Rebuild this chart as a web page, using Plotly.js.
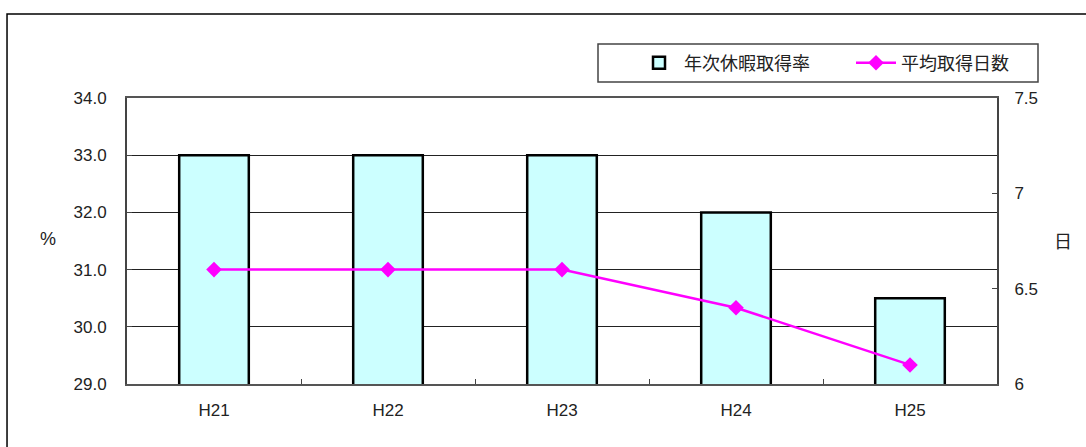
<!DOCTYPE html>
<html><head><meta charset="utf-8">
<script src="https://cdn.plot.ly/plotly-3.0.1.min.js"></script>
<style>html,body{margin:0;padding:0;background:#fff}#c{width:1086px;height:447px}</style>
</head><body><div id="c"></div>
<script>
const categories = ["H21","H22","H23","H24","H25"];
const rateValues = [33.0, 33.0, 33.0, 32.0, 30.5];
const dayValues = [6.6, 6.6, 6.6, 6.4, 6.1];
const rateName = "年次休暇取得率";
const dayName = "平均取得日数";
const leftTicks = [29, 30, 31, 32, 33, 34];
const leftTickText = ["29.0","30.0","31.0","32.0","33.0","34.0"];
const rightTicks = [6, 6.5, 7, 7.5];
const rightTickText = ["6","6.5","7","7.5"];

const FONT = "Liberation Sans, Arial, Noto Sans CJK JP, sans-serif";
const CJK = "Noto Sans CJK JP, sans-serif";
const traces = [
  {type:"bar", x:categories, y:rateValues, name:rateName, width:0.4,
   marker:{color:"#CCFFFF", line:{color:"#000", width:2.5}}, yaxis:"y"},
  {type:"scatter", mode:"lines+markers", x:categories, y:dayValues, name:dayName, yaxis:"y2",
   line:{color:"#FF00FF", width:2.5}, marker:{symbol:"diamond", size:12, color:"#FF00FF"}}
];
const layout = {
  width:1086, height:447,
  margin:{l:127, r:89, t:98, b:63, autoexpand:false},
  paper_bgcolor:"#fff", plot_bgcolor:"#fff",
  font:{family:FONT, size:17, color:"#222"},
  showlegend:true,
  legend:{orientation:"h", x:(634-127)/870, y:(384-63)/286, xanchor:"left", yanchor:"middle",
          borderwidth:0, bgcolor:"rgba(0,0,0,0)",
          font:{family:CJK, size:18, color:"#222"},
          itemwidth:40, entrywidth:162, tracegroupgap:0},
  xaxis:{type:"category", showgrid:false, showline:true, mirror:true, linecolor:"#555", linewidth:2,
         ticks:"inside", tickson:"boundaries", ticklen:5, tickcolor:"#444", tickwidth:1,
         ticklabelstandoff:10, tickfont:{size:17, family:FONT}, range:[-0.5,4.5], fixedrange:true},
  yaxis:{range:[29,34], tickvals:leftTicks, ticktext:leftTickText, showgrid:true, gridcolor:"#222", gridwidth:1,
         showline:true, linecolor:"#444", linewidth:2, ticks:"inside", ticklen:5, tickcolor:"#444",
         ticklabelstandoff:15, tickfont:{size:17, family:FONT}, zeroline:false},
  yaxis2:{overlaying:"y", side:"right", range:[6,7.5], tickvals:rightTicks, ticktext:rightTickText,
          showgrid:false, showline:true, linecolor:"#444", linewidth:2, ticks:"inside", ticklen:5, tickcolor:"#444",
          ticklabelstandoff:12, tickfont:{size:17, family:FONT}, zeroline:false},
  shapes:[
    {type:"rect", xref:"paper", yref:"paper", x0:-0.1379, x1:1.3, y0:-0.5, y1:1.2937,
     line:{color:"#000", width:1.5}, fillcolor:"rgba(0,0,0,0)", layer:"below"},
    {type:"rect", xref:"paper", yref:"paper", x0:(598-127)/870, x1:(1038-127)/870, y0:(384-82)/286, y1:(384-44)/286,
     line:{color:"#444", width:1.5}, fillcolor:"rgba(0,0,0,0)", layer:"below"}
  ],
  annotations:[
    {text:"%", xref:"paper", yref:"paper", x:(48-127)/870, y:(384-239)/286, xanchor:"center", yanchor:"middle",
     showarrow:false, font:{size:18, family:FONT}},
    {text:"日", xref:"paper", yref:"paper", x:(1063-127)/870, y:(384-240)/286, xanchor:"center", yanchor:"middle",
     showarrow:false, font:{size:18, family:CJK}}
  ]
};
Plotly.newPlot("c", traces, layout, {displayModeBar:false, staticPlot:true});
</script></body></html>
